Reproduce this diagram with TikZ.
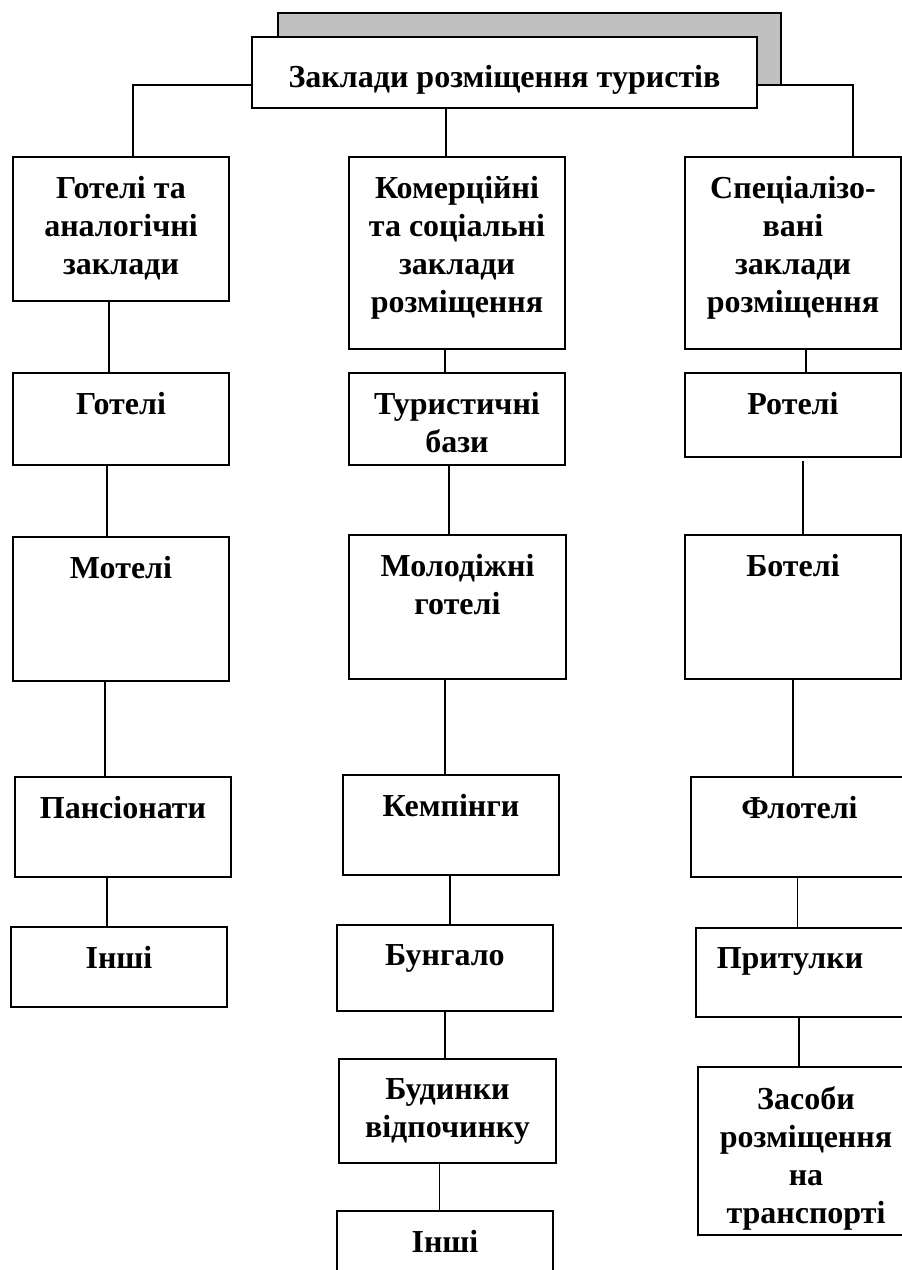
\documentclass[tikz,border=0pt]{standalone}
\usepackage{fontspec}
\setmainfont{Liberation Serif}
\definecolor{shadowgray}{HTML}{C0C0C0}
\newcommand\mybox[5]{\node[box,minimum width={#4pt-#2pt},minimum height={#5pt-#3pt}] (#1) at (#2,#3) {};}
\newcommand\mytxt[3]{\node[txt] (#1t) at ([xshift=#2pt,yshift=-19pt]#1.north) {#3};}
\newcommand\myconn[3]{\draw[conn] ([xshift=#3pt]#1.south) -- ([xshift=#3pt]#1.south |- #2.north);}
\begin{document}
\begin{tikzpicture}[x=1pt,y=-1pt,
  box/.style={draw,line width=2pt,inner sep=0pt,outer sep=0pt,anchor=north west,fill=white},
  txt/.style={font=\fontsize{32}{38}\selectfont\bfseries,align=center,inner sep=0pt,anchor=north},
  conn/.style={line width=1.5pt}]
\useasboundingbox (0,0) rectangle (902,1270);
\clip (0,0) rectangle (902,1270);
% title with shadow
\node[box,fill=shadowgray,minimum width={503.5pt},minimum height={72pt}] (sh) at (277.5,13) {};
\mybox{top}{252}{37}{757}{108}
\node[txt,anchor=base] (topt) at ([yshift=-14.5pt]top.center) {Заклади розміщення туристів};
% left column
\mybox{a1}{13}{157}{229}{301}
\mybox{a2}{13}{373}{229}{465}
\mybox{a3}{13}{537}{229}{681}
\mybox{a4}{15}{777}{231}{877}
\mybox{a5}{11}{927}{227}{1007}
\mytxt{a1}{0}{Готелі та\\аналогічні\\заклади}
\mytxt{a2}{0}{Готелі}
\mytxt{a3}{0}{Мотелі}
\mytxt{a4}{0}{Пансіонати}
\mytxt{a5}{0}{Інші}
% middle column
\mybox{b1}{349}{157}{565}{349}
\mybox{b2}{349}{373}{565}{465}
\mybox{b3}{349}{535}{566}{679}
\mybox{b4}{343}{775}{559}{875}
\mybox{b5}{337}{925}{553}{1011}
\mybox{b6}{339}{1059}{556}{1163}
\mybox{b7}{337}{1211}{553}{1300}
\mytxt{b1}{0}{Комерційні\\та соціальні\\заклади\\розміщення}
\mytxt{b2}{0}{Туристичні\\бази}
\mytxt{b3}{0}{Молодіжні\\готелі}
\mytxt{b4}{0}{Кемпінги}
\mytxt{b5}{0}{Бунгало}
\mytxt{b6}{0}{Будинки\\відпочинку}
\mytxt{b7}{0}{Інші}
% right column
\mybox{c1}{685}{157}{901}{349}
\mybox{c2}{685}{373}{901}{457}
\mybox{c3}{685}{535}{901}{679}
\mybox{c4}{691}{777}{908}{877}
\mybox{c5}{696}{928}{910}{1017}
\mybox{c6}{698}{1067}{914}{1235}
\mytxt{c1}{0}{Спеціалізо-\\вані\\заклади\\розміщення}
\mytxt{c2}{0}{Ротелі}
\mytxt{c3}{0}{Ботелі}
\mytxt{c4}{0}{Флотелі}
\mytxt{c5}{-13}{Притулки}
\mytxt{c6}{0}{Засоби\\розміщення\\на\\транспорті}
% connectors from title
\draw[conn] ([yshift=-12.5pt]top.west) -| ([xshift=12pt]a1.north);
\draw[conn] (sh.south east) -| ([xshift=60pt]c1.north);
\draw[conn] ([xshift=-58.5pt]top.south) -- ([xshift=-58.5pt]top.south |- b1.north);
% column connectors
\myconn{a1}{a2}{-12}
\myconn{a2}{a3}{-14}
\myconn{a3}{a4}{-16}
\myconn{a4}{a5}{-16}
\myconn{b1}{b2}{-12}
\myconn{b2}{b3}{-8}
\myconn{b3}{b4}{-12.5}
\myconn{b4}{b5}{-1}
\myconn{b5}{b6}{0}
\myconn{b6}{b7}{-8}
\myconn{c1}{c2}{13}
\draw[conn] ([xshift=10pt,yshift=-4pt]c2.south) -- ([xshift=10pt]c2.south |- c3.north);
\myconn{c3}{c4}{0}
\myconn{c4}{c5}{-2}
\myconn{c5}{c6}{-4}
\end{tikzpicture}
\end{document}
